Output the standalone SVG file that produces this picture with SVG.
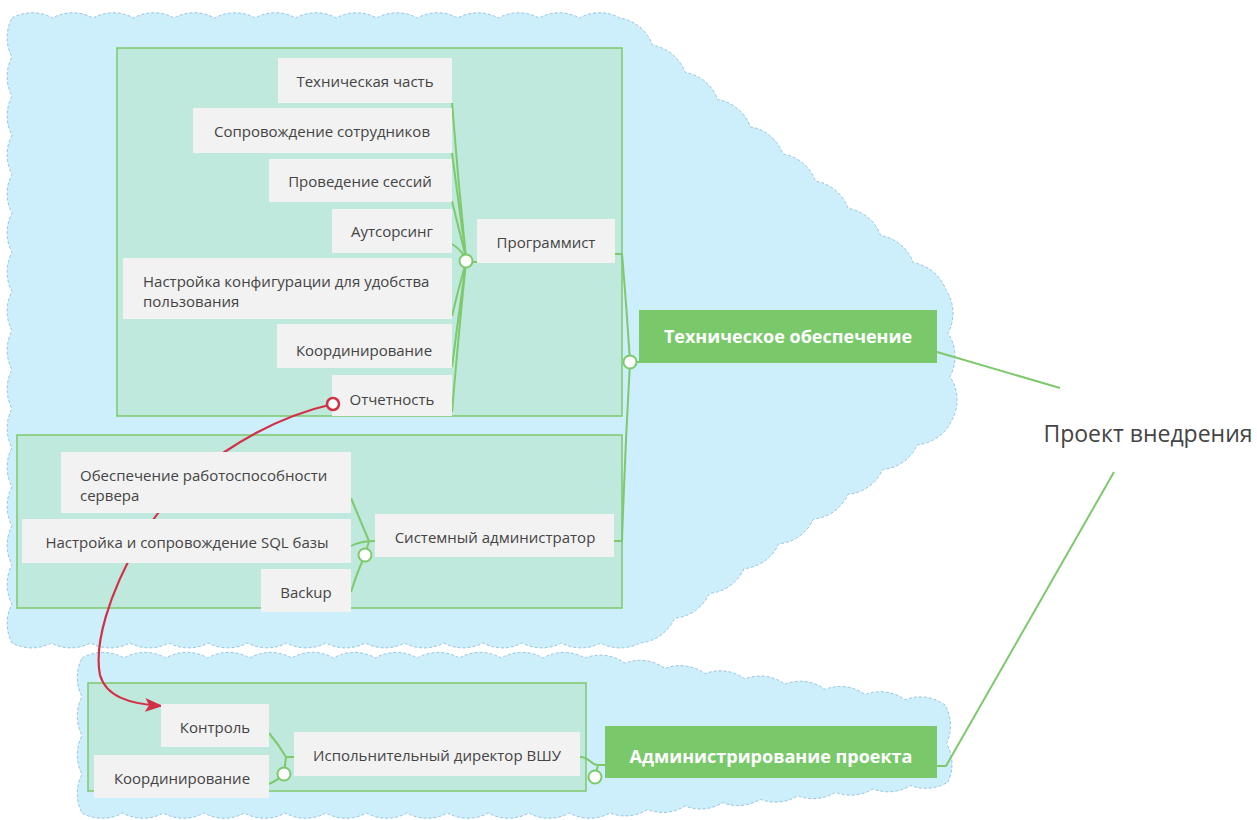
<svg xmlns="http://www.w3.org/2000/svg" width="1257" height="820" viewBox="0 0 1257 820">
<defs>
<style>
.cloud{fill:#cdeefb;stroke:#93c4de;stroke-width:1;stroke-dasharray:3 2}
.grp{fill:#bfe9dd;stroke:#7dc96c;stroke-width:1.5}
.nd{fill:#f2f2f2}
.tx{font-family:"Open Sans","Noto Sans",sans-serif;font-size:15px;fill:#444;text-anchor:middle}
.txl{font-family:"Open Sans","Noto Sans",sans-serif;font-size:15px;fill:#444}
.main{fill:#79c96a}
.mt{font-family:"Open Sans","Noto Sans",sans-serif;font-size:18px;font-weight:bold;fill:#fff;text-anchor:middle}
.ln{fill:none;stroke:#7dc96c;stroke-width:2}
.ci{fill:#fff;stroke:#7dc96c;stroke-width:2}
</style>
<marker id="ah" markerWidth="18" markerHeight="14" refX="17" refY="7" orient="auto" markerUnits="userSpaceOnUse" viewBox="0 0 18 14">
<path d="M0,0 L18,7 L0,14 L4,7 z" fill="#d33048"/>
</marker>
</defs>
<rect width="1257" height="820" fill="#fff"/>
<g id="cloud1">
<path class="cloud" d="M12,18
a42 42 0 0 1 40.53 0 a42 42 0 0 1 40.53 0 a42 42 0 0 1 40.53 0 a42 42 0 0 1 40.53 0 a42 42 0 0 1 40.53 0
a42 42 0 0 1 40.53 0 a42 42 0 0 1 40.53 0 a42 42 0 0 1 40.53 0 a42 42 0 0 1 40.53 0 a42 42 0 0 1 40.53 0
a42 42 0 0 1 40.53 0 a42 42 0 0 1 40.53 0 a42 42 0 0 1 40.53 0 a42 42 0 0 1 40.53 0 a42 42 0 0 1 40.53 0
a42 42 0 0 1 32.6 27.2 a42 42 0 0 1 32.6 27.2 a42 42 0 0 1 32.6 27.2 a42 42 0 0 1 32.6 27.2 a42 42 0 0 1 32.6 27.2
a42 42 0 0 1 32.6 27.2 a42 42 0 0 1 32.6 27.2 a42 42 0 0 1 32.6 27.2 a42 42 0 0 1 32.6 27.2 a42 42 0 0 1 32.6 27.2
a42 42 0 0 1 2 43.33 a42 42 0 0 1 2 43.33 a42 42 0 0 1 2 43.34
a42 42 0 0 1 -34.667 24.778 a42 42 0 0 1 -34.667 24.778 a42 42 0 0 1 -34.667 24.778 a42 42 0 0 1 -34.667 24.778 a42 42 0 0 1 -34.667 24.778
a42 42 0 0 1 -34.667 24.778 a42 42 0 0 1 -34.667 24.778 a42 42 0 0 1 -34.667 24.778 a42 42 0 0 1 -34.664 24.776
a42 42 0 0 1 -39.25 0 a42 42 0 0 1 -39.25 0 a42 42 0 0 1 -39.25 0 a42 42 0 0 1 -39.25 0 a42 42 0 0 1 -39.25 0 a42 42 0 0 1 -39.25 0 a42 42 0 0 1 -39.25 0 a42 42 0 0 1 -39.25 0
a42 42 0 0 1 -39.25 0 a42 42 0 0 1 -39.25 0 a42 42 0 0 1 -39.25 0 a42 42 0 0 1 -39.25 0 a42 42 0 0 1 -39.25 0 a42 42 0 0 1 -39.25 0 a42 42 0 0 1 -39.25 0 a42 42 0 0 1 -39.25 0
a42 42 0 0 1 0 -39.0625 a42 42 0 0 1 0 -39.0625 a42 42 0 0 1 0 -39.0625 a42 42 0 0 1 0 -39.0625 a42 42 0 0 1 0 -39.0625 a42 42 0 0 1 0 -39.0625 a42 42 0 0 1 0 -39.0625 a42 42 0 0 1 0 -39.0625
a42 42 0 0 1 0 -39.0625 a42 42 0 0 1 0 -39.0625 a42 42 0 0 1 0 -39.0625 a42 42 0 0 1 0 -39.0625 a42 42 0 0 1 0 -39.0625 a42 42 0 0 1 0 -39.0625 a42 42 0 0 1 0 -39.0625 a42 42 0 0 1 0 -39.0625 z"/>
</g>
<g id="cloud2">
<path class="cloud" d="M82,658
a42 42 0 0 1 41.917 0 a42 42 0 0 1 41.917 0 a42 42 0 0 1 41.917 0 a42 42 0 0 1 41.917 0 a42 42 0 0 1 41.917 0 a42 42 0 0 1 41.917 0
a42 42 0 0 1 41.917 0 a42 42 0 0 1 41.917 0 a42 42 0 0 1 41.917 0 a42 42 0 0 1 41.917 0 a42 42 0 0 1 41.917 0 a42 42 0 0 1 41.913 0
a42 42 0 0 1 40 5.222 a42 42 0 0 1 40 5.222 a42 42 0 0 1 40 5.222 a42 42 0 0 1 40 5.222 a42 42 0 0 1 40 5.222
a42 42 0 0 1 40 5.222 a42 42 0 0 1 40 5.222 a42 42 0 0 1 40 5.222 a42 42 0 0 1 40 5.224
a42 42 0 0 1 1.5 38.5 a42 42 0 0 1 1.5 38.5
a42 42 0 0 1 -37.556 3.444 a42 42 0 0 1 -37.556 3.444 a42 42 0 0 1 -37.556 3.444 a42 42 0 0 1 -37.556 3.444 a42 42 0 0 1 -37.556 3.444
a42 42 0 0 1 -37.556 3.444 a42 42 0 0 1 -37.556 3.444 a42 42 0 0 1 -37.556 3.444 a42 42 0 0 1 -37.552 3.448
a42 42 0 0 1 -40.615 0 a42 42 0 0 1 -40.615 0 a42 42 0 0 1 -40.615 0 a42 42 0 0 1 -40.615 0 a42 42 0 0 1 -40.615 0 a42 42 0 0 1 -40.615 0 a42 42 0 0 1 -40.615 0
a42 42 0 0 1 -40.615 0 a42 42 0 0 1 -40.615 0 a42 42 0 0 1 -40.615 0 a42 42 0 0 1 -40.615 0 a42 42 0 0 1 -40.615 0 a42 42 0 0 1 -40.62 0
a42 42 0 0 1 0 -38.75 a42 42 0 0 1 0 -38.75 a42 42 0 0 1 0 -38.75 a42 42 0 0 1 0 -38.75 z"/>
</g>
<g id="groups">
<rect id="grp-programmer" class="grp" x="117" y="48" width="505" height="368"/>
<rect id="grp-sysadmin" class="grp" x="17" y="435" width="605" height="173"/>
<rect id="grp-director" class="grp" x="88" y="683" width="498" height="108"/>
</g>
<g id="connectors">
<path class="ln" d="M466,258 Q458,180 452,103"/>
<path class="ln" d="M466,258 Q459,205 452,153"/>
<path class="ln" d="M466,258 Q459,230 452,201"/>
<path class="ln" d="M466,258 Q459,248 452,244"/>
<path class="ln" d="M466,262 Q458,290 452,316"/>
<path class="ln" d="M466,262 Q458,320 452,367"/>
<path class="ln" d="M466,262 Q458,340 452,412"/>
<path class="ln" d="M466,262 L477,262"/>
<path class="ln" d="M615,254 L622,254 Q626,300 630,362"/>
<path class="ln" d="M614,541 L622,541 Q625,450 630,362"/>
<path class="ln" d="M630,362 L639,362"/>
<path class="ln" d="M937,352 L1060,388"/>
<path class="ln" d="M937,766 L946,766 L1114,472"/>
<path class="ln" d="M351,498 Q360,520 369,541"/>
<path class="ln" d="M351,546 Q360,541 375,541"/>
<path class="ln" d="M351,592 Q358,570 365,555"/>
<path class="ln" d="M365,555 L369,541"/>
<path class="ln" d="M269,733 Q279,745 286,757 L294,757"/>
<path class="ln" d="M269,784 Q278,780 284,774 L286,757"/>
<path class="ln" d="M580,757 C590,757 590,765 598,765 L605,765"/>
<path class="ln" d="M595,777 L598,765"/>
<path id="red-link" d="M333,404 C262,420 180,470 140,540 C108,595 94,645 100,675 C106,696 128,704 162,706" fill="none" stroke="#d33048" stroke-width="2.2" marker-end="url(#ah)"/>
</g>
<g id="n-tech-part"><rect class="nd" x="278" y="58" width="174" height="45"/><text class="tx" x="365" y="87">Техническая часть</text></g>
<g id="n-support"><rect class="nd" x="193" y="108" width="259" height="45"/><text class="tx" x="322" y="137">Сопровождение сотрудников</text></g>
<g id="n-sessions"><rect class="nd" x="269" y="159" width="183" height="43"/><text class="tx" x="360" y="187">Проведение сессий</text></g>
<g id="n-outsourcing"><rect class="nd" x="332" y="209" width="120" height="44"/><text class="tx" x="392" y="237">Аутсорсинг</text></g>
<g id="n-config"><rect class="nd" x="123" y="258" width="329" height="61"/><text class="txl" x="143" y="287">Настройка конфигурации для удобства</text><text class="txl" x="143" y="307">пользования</text></g>
<g id="n-coord1"><rect class="nd" x="277" y="324" width="175" height="44"/><text class="tx" x="364" y="356">Координирование</text></g>
<g id="n-report"><rect class="nd" x="332" y="375" width="120" height="41"/><text class="tx" x="392" y="405">Отчетность</text></g>
<g id="n-programmer"><rect class="nd" x="477" y="219" width="138" height="44"/><text class="tx" x="546" y="248">Программист</text></g>
<g id="n-tech"><rect class="main" x="639" y="310" width="298" height="53"/><text class="mt" x="788" y="343">Техническое обеспечение</text></g>
<g id="n-project"><text x="1148" y="442" font-family="Open Sans, Noto Sans, sans-serif" font-size="23" fill="#444" text-anchor="middle">Проект внедрения</text></g>
<g id="n-server"><rect class="nd" x="61" y="452" width="290" height="61"/><text class="txl" x="80" y="481">Обеспечение работоспособности</text><text class="txl" x="80" y="501">сервера</text></g>
<g id="n-sql"><rect class="nd" x="22" y="519" width="329" height="44"/><text class="tx" x="187" y="548">Настройка и сопровождение SQL базы</text></g>
<g id="n-backup"><rect class="nd" x="261" y="569" width="90" height="43"/><text class="tx" x="306" y="598">Backup</text></g>
<g id="n-sysadmin"><rect class="nd" x="375" y="514" width="239" height="43"/><text class="tx" x="495" y="543">Системный администратор</text></g>
<g id="n-control"><rect class="nd" x="161" y="704" width="108" height="43"/><text class="tx" x="215" y="733">Контроль</text></g>
<g id="n-coord2"><rect class="nd" x="94" y="755" width="175" height="43"/><text class="tx" x="182" y="784">Координирование</text></g>
<g id="n-director"><rect class="nd" x="294" y="732" width="286" height="44"/><text class="tx" x="437" y="761">Испольнительный директор ВШУ</text></g>
<g id="n-admin"><rect class="main" x="605" y="726" width="332" height="52"/><text class="mt" x="771" y="763">Администрирование проекта</text></g>
<g id="circles">
<circle class="ci" cx="466" cy="261" r="6.5"/>
<circle class="ci" cx="630" cy="362" r="6.5"/>
<circle class="ci" cx="365" cy="555" r="6.5"/>
<circle class="ci" cx="284" cy="774" r="6.5"/>
<circle class="ci" cx="595" cy="777" r="6.5"/>
<circle cx="333" cy="404" r="6" fill="#fff" stroke="#d33048" stroke-width="2.5"/>
</g>
</svg>
